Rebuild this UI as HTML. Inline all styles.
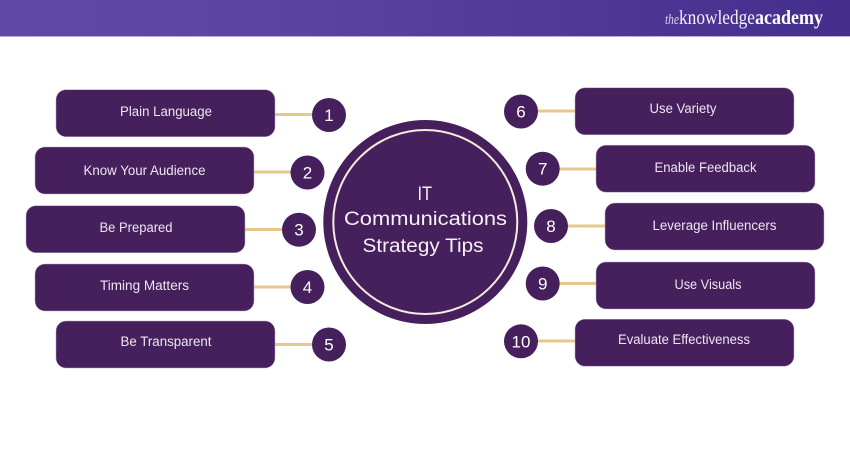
<!DOCTYPE html>
<html><head><meta charset="utf-8"><style>
html,body{margin:0;padding:0;background:#fff;width:850px;height:450px;overflow:hidden}
svg{display:block}
text{font-family:"Liberation Sans",sans-serif}
.l{font-size:13.5px;fill:#efe6f0}
.n{font-size:17px;fill:#fff;text-anchor:middle}
.c{font-size:19px;fill:#f7f1f7}
</style></head><body>
<svg width="850" height="450" viewBox="0 0 850 450" xmlns="http://www.w3.org/2000/svg">
<defs><linearGradient id="h" x1="0" x2="1" y1="0" y2="0"><stop offset="0" stop-color="#5f49a8"/><stop offset=".35" stop-color="#5a43a3"/><stop offset="1" stop-color="#442e8c"/></linearGradient></defs>
<rect width="850" height="36" fill="url(#h)"/>
<rect y="36" width="850" height="1" fill="#b9aed6"/>
<text x="665" y="24" font-size="15" style="font-family:'Liberation Serif',serif;font-style:italic" fill="#d9d2ea" textLength="14" lengthAdjust="spacingAndGlyphs">the</text>
<text x="679" y="24" font-size="20" style="font-family:'Liberation Serif',serif" fill="#f4f1f8" textLength="76" lengthAdjust="spacingAndGlyphs">knowledge</text>
<text x="755" y="24" font-size="20" font-weight="bold" style="font-family:'Liberation Serif',serif" fill="#fff" textLength="68" lengthAdjust="spacingAndGlyphs">academy</text>

<g stroke="#e6c88c" stroke-width="3">
<line x1="275" x2="313" y1="114.5" y2="114.5"/>
<line x1="254" x2="291" y1="172" y2="172"/>
<line x1="245" x2="283" y1="229.5" y2="229.5"/>
<line x1="254" x2="291" y1="287" y2="287"/>
<line x1="275" x2="313" y1="344.5" y2="344.5"/>
<line x1="537" x2="575" y1="111" y2="111"/>
<line x1="559" x2="596" y1="169" y2="169"/>
<line x1="567" x2="605" y1="226" y2="226"/>
<line x1="559" x2="596" y1="283.5" y2="283.5"/>
<line x1="537" x2="575" y1="341" y2="341"/>
</g>

<g fill="#45205c" stroke="#b9a6c4" stroke-width=".5">
<rect x="56" y="89.7" width="219" height="47" rx="10"/>
<rect x="35" y="147" width="219" height="47" rx="10"/>
<rect x="26" y="205.7" width="219" height="47" rx="10"/>
<rect x="35" y="264" width="219" height="47" rx="10"/>
<rect x="56" y="321" width="219" height="47" rx="10"/>
<rect x="575" y="87.8" width="219" height="47" rx="10"/>
<rect x="596" y="145.2" width="219" height="47" rx="10"/>
<rect x="605" y="203" width="219" height="47" rx="10"/>
<rect x="596" y="262" width="219" height="47" rx="10"/>
<rect x="575" y="319.2" width="219" height="47" rx="10"/>
</g>

<g fill="#45205c">
<circle cx="329" cy="115" r="17"/>
<circle cx="307.5" cy="172.5" r="17"/>
<circle cx="299" cy="229.7" r="17"/>
<circle cx="307.5" cy="287" r="17"/>
<circle cx="329" cy="344.5" r="17"/>
<circle cx="521" cy="111.5" r="17"/>
<circle cx="542.7" cy="168.7" r="17"/>
<circle cx="551" cy="226" r="17"/>
<circle cx="542.7" cy="283.5" r="17"/>
<circle cx="521" cy="341.3" r="17"/>
<circle cx="425.3" cy="222" r="102"/>
</g>
<circle cx="425.3" cy="222" r="92" fill="none" stroke="#f6ecdf" stroke-width="2"/>

<text class="n" x="329" y="121">1</text>
<text class="n" x="307.5" y="178.5">2</text>
<text class="n" x="299" y="235.7">3</text>
<text class="n" x="307.5" y="293">4</text>
<text class="n" x="329" y="350.5">5</text>
<text class="n" x="521" y="117.5">6</text>
<text class="n" x="542.7" y="174.7">7</text>
<text class="n" x="551" y="232">8</text>
<text class="n" x="542.7" y="289.5">9</text>
<text class="n" x="521" y="347.3">10</text>

<text class="l" x="120" y="116" textLength="92" lengthAdjust="spacingAndGlyphs">Plain Language</text>
<text class="l" x="83.5" y="175" textLength="122" lengthAdjust="spacingAndGlyphs">Know Your Audience</text>
<text class="l" x="99.5" y="232" textLength="73" lengthAdjust="spacingAndGlyphs">Be Prepared</text>
<text class="l" x="100" y="290" textLength="89" lengthAdjust="spacingAndGlyphs">Timing Matters</text>
<text class="l" x="120.5" y="346" textLength="91" lengthAdjust="spacingAndGlyphs">Be Transparent</text>
<text class="l" x="649.5" y="113" textLength="67" lengthAdjust="spacingAndGlyphs">Use Variety</text>
<text class="l" x="654.5" y="172" textLength="102" lengthAdjust="spacingAndGlyphs">Enable Feedback</text>
<text class="l" x="652.5" y="230" textLength="124" lengthAdjust="spacingAndGlyphs">Leverage Influencers</text>
<text class="l" x="674.5" y="289" textLength="67" lengthAdjust="spacingAndGlyphs">Use Visuals</text>
<text class="l" x="618" y="344" textLength="132" lengthAdjust="spacingAndGlyphs">Evaluate Effectiveness</text>

<text class="c" x="417.5" y="200" textLength="14.5" lengthAdjust="spacingAndGlyphs">IT</text>
<text class="c" x="344" y="225" textLength="163" lengthAdjust="spacingAndGlyphs">Communications</text>
<text class="c" x="362.5" y="252" textLength="121" lengthAdjust="spacingAndGlyphs">Strategy Tips</text>
</svg>
</body></html>
